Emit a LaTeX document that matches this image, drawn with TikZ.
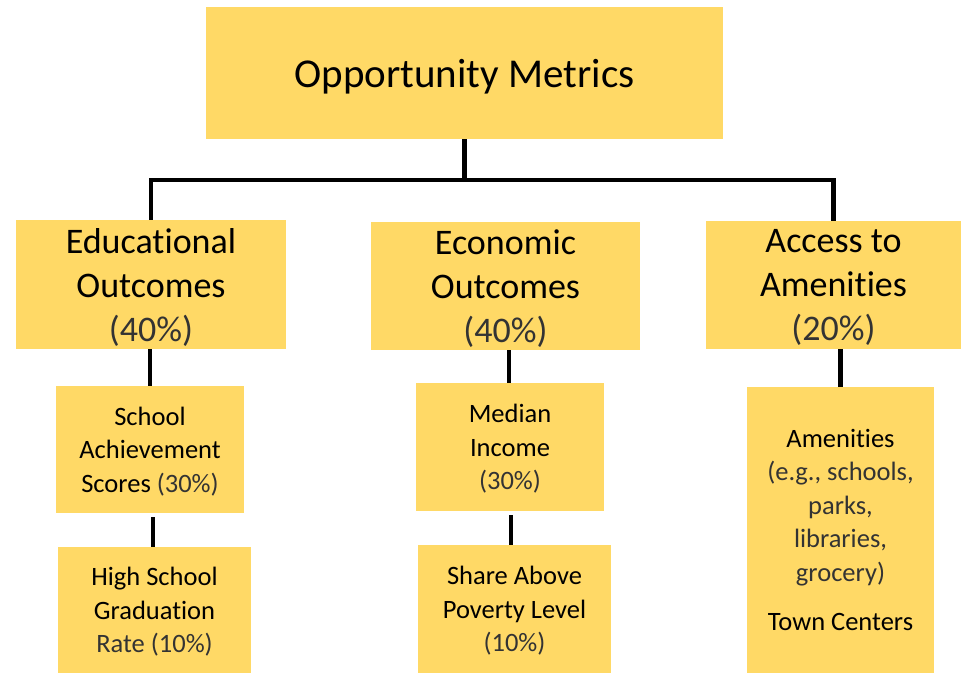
\documentclass[tikz,border=0pt]{standalone}
\usepackage{fontspec}
\setmainfont{Carlito}[Ligatures=NoCommon]
\usetikzlibrary{calc}

\definecolor{metricfill}{HTML}{FFD966}
\definecolor{pctgray}{HTML}{333333}
\newcommand{\pct}[1]{{\color{pctgray}#1}}

\begin{document}
\begin{tikzpicture}[x=1pt, y=-1pt,
  metricbox/.style={fill=metricfill, inner sep=0, align=center, text depth=0pt},
  toplevel/.style={metricbox, font=\fontsize{41}{50}\selectfont},
  midlevel/.style={metricbox, font=\fontsize{36}{44}\selectfont},
  lowlevel/.style={metricbox, font=\fontsize{26.5}{33.5}\selectfont},
  link/.style={black, line width=4.5pt}]
\useasboundingbox (0,0) rectangle (961,673);

% top of the tree
\node[toplevel, minimum width=517, minimum height=132] (metrics) at (464.5,73) {Opportunity Metrics};

% the three groups
\node[midlevel, minimum width=270, minimum height=129] (edu) at (151,284.5) {Educational\\Outcomes\\\pct{(40\%)}};
\node[midlevel, minimum width=269, minimum height=128] (eco) at (505.5,286) {Economic\\Outcomes\\\pct{(40\%)}};
\node[midlevel, minimum width=255, minimum height=128] (acc) at (833.5,285) {Access to\\Amenities\\\pct{(20\%)}};

% the single metrics
\node[lowlevel, minimum width=188, minimum height=127] (school) at (150,449.5) {School\\Achievement\\Scores \pct{(30\%)}};
\node[lowlevel, minimum width=193, minimum height=126] (grad) at (154.5,610) {High School\\Graduation\\\pct{Rate (10\%)}};
\node[lowlevel, minimum width=188, minimum height=128] (income) at (510,447) {Median\\Income\\\pct{(30\%)}};
\node[lowlevel, minimum width=193, minimum height=128] (poverty) at (514.5,609) {Share Above\\Poverty Level\\\pct{(10\%)}};
\node[lowlevel, minimum width=187, minimum height=286] (amen) at (840.5,530) {Amenities\\\pct{(e.g., schools,}\\\pct{parks,}\\\pct{libraries,}\\\pct{grocery)}\\[16pt]Town Centers};

% connectors
\coordinate (bar) at (464.5,180);
\draw[link] (metrics.south) -- (bar);
\draw[link] (edu.north) |- (bar) -| (acc.north);
\draw[link] (school.north |- edu.south) -- (school.north);
\draw[link] (income.north |- eco.south) ++(-1,0) -- ($(income.north)+(-1,0)$);
\draw[link] (amen.north |- acc.south) -- (amen.north);
\draw[link, shorten >=4pt] ($(grad.north)+(-1.5,0)$) -- ($(grad.north |- school.south)+(-1.5,0)$);
\draw[link, shorten >=4pt] ($(poverty.north)+(-3.5,0)$) -- ($(poverty.north |- income.south)+(-3.5,0)$);
\end{tikzpicture}
\end{document}
